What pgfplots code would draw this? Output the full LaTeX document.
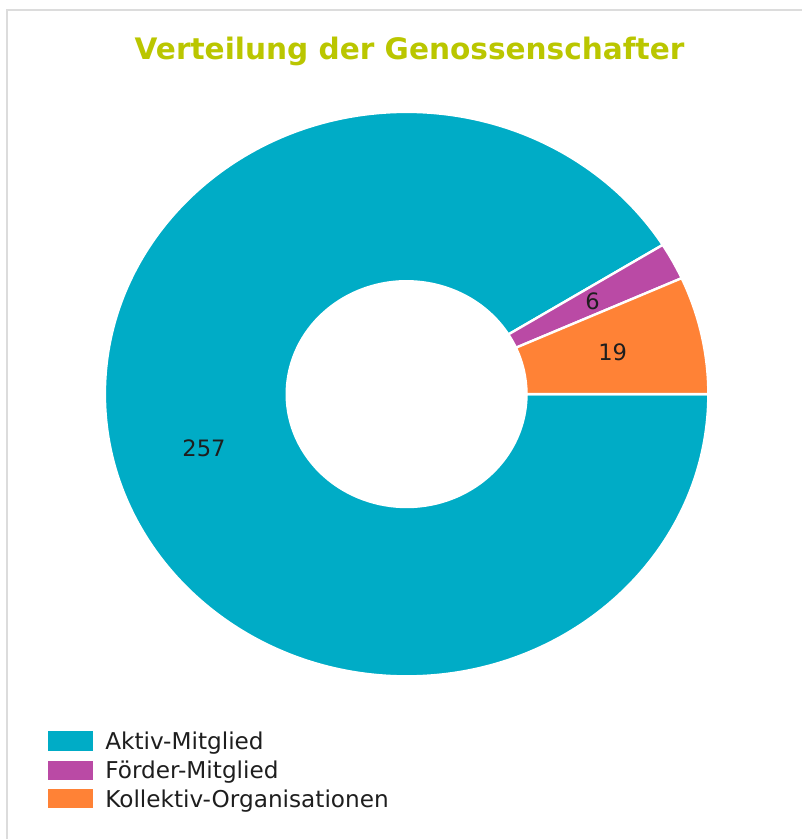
\documentclass[border=0pt]{standalone}
\usepackage{pgfplots}
\pgfplotsset{compat=1.18}
\usepackage{pgfplotstable}
\usepackage{fontspec}
\setmainfont{DejaVu Sans}
\definecolor{cAktiv}{RGB}{0,172,198}
\definecolor{cFoerder}{RGB}{186,74,165}
\definecolor{cKollektiv}{RGB}{255,130,54}
\definecolor{cTitle}{RGB}{186,198,0}
\definecolor{cFrame}{RGB}{220,220,220}

\pgfplotstableread{
label value
Aktiv 257
Foerder 6
Kollektiv 19
}\datatable

\pgfplotstablegetelem{0}{value}\of\datatable \let\va\pgfplotsretval
\pgfplotstablegetelem{1}{value}\of\datatable \let\vb\pgfplotsretval
\pgfplotstablegetelem{2}{value}\of\datatable \let\vc\pgfplotsretval
\pgfmathsetmacro\total{\va+\vb+\vc}
% clockwise from 3 o'clock
\pgfmathsetmacro\aA{0}
\pgfmathsetmacro\aB{-360*(\va/\total)}
\pgfmathsetmacro\aC{\aB-360*(\vb/\total)}
\pgfmathsetmacro\aD{\aC-360*(\vc/\total)}
\pgfmathsetmacro\mA{(\aA+\aB)/2}
\pgfmathsetmacro\mB{(\aB+\aC)/2}
\pgfmathsetmacro\mC{(\aC+\aD)/2}

\def\RX{151pt}\def\RY{141.25pt}
\def\rx{60pt}\def\ry{56.5pt}
\def\MX{105.5pt}\def\MY{98.9pt}

\newcommand\slice[3]{%
  \fill[#3, draw=white, line width=1.2pt]
    ([shift={(#1:\RX\space and \RY)}]axis cs:407,445.5)
    arc[start angle=#1, end angle=#2, x radius=\RX, y radius=\RY]
    -- ([shift={(#2:\rx\space and \ry)}]axis cs:407,445.5)
    arc[start angle=#2, end angle=#1, x radius=\rx, y radius=\ry]
    -- cycle;}

\begin{document}
\begin{tikzpicture}
\begin{axis}[
  scale only axis, width=401.5pt, height=420pt,
  xmin=0, xmax=803, ymin=0, ymax=840,
  hide axis, clip=false]
\path (axis cs:0,0) rectangle (axis cs:803,840);
% frame
\draw[cFrame, line width=0.8pt] (axis cs:7,0) -- (axis cs:7,830) -- (axis cs:803,830);
% title
\node[font=\bfseries\fontsize{14.8pt}{17pt}\selectfont, text=cTitle] at (axis cs:410,788) {Verteilung der Genossenschafter};
% slices
\slice{\aA}{\aB}{cAktiv}
\slice{\aB}{\aC}{cFoerder}
\slice{\aC}{\aD}{cKollektiv}
% labels
\node[font=\fontsize{11.3pt}{13pt}\selectfont, text={rgb,255:red,30;green,30;blue,30}] at ([shift={(\mA:\MX\space and \MY)}]axis cs:407,445.5) {\va};
\node[font=\fontsize{11.3pt}{13pt}\selectfont, text={rgb,255:red,30;green,30;blue,30}] at ([shift={(\mB:\MX\space and \MY)}]axis cs:407,445.5) {\vb};
\node[font=\fontsize{11.3pt}{13pt}\selectfont, text={rgb,255:red,30;green,30;blue,30}] at ([shift={(\mC:\MX\space and \MY)}]axis cs:407,445.5) {\vc};
% legend
\fill[cAktiv] (axis cs:48,108) rectangle (axis cs:93,88);
\fill[cFoerder] (axis cs:48,78) rectangle (axis cs:93,59);
\fill[cKollektiv] (axis cs:48,50) rectangle (axis cs:93,31);
\node[anchor=base west, inner sep=0pt, font=\fontsize{11.6pt}{13pt}\selectfont, text={rgb,255:red,30;green,30;blue,30}] at (axis cs:105,89.6) {Aktiv-Mitglied};
\node[anchor=base west, inner sep=0pt, font=\fontsize{11.6pt}{13pt}\selectfont, text={rgb,255:red,30;green,30;blue,30}] at (axis cs:105,60.5) {Förder-Mitglied};
\node[anchor=base west, inner sep=0pt, font=\fontsize{11.6pt}{13pt}\selectfont, text={rgb,255:red,30;green,30;blue,30}] at (axis cs:105,32) {Kollektiv-Organisationen};
\end{axis}
\end{tikzpicture}
\end{document}
